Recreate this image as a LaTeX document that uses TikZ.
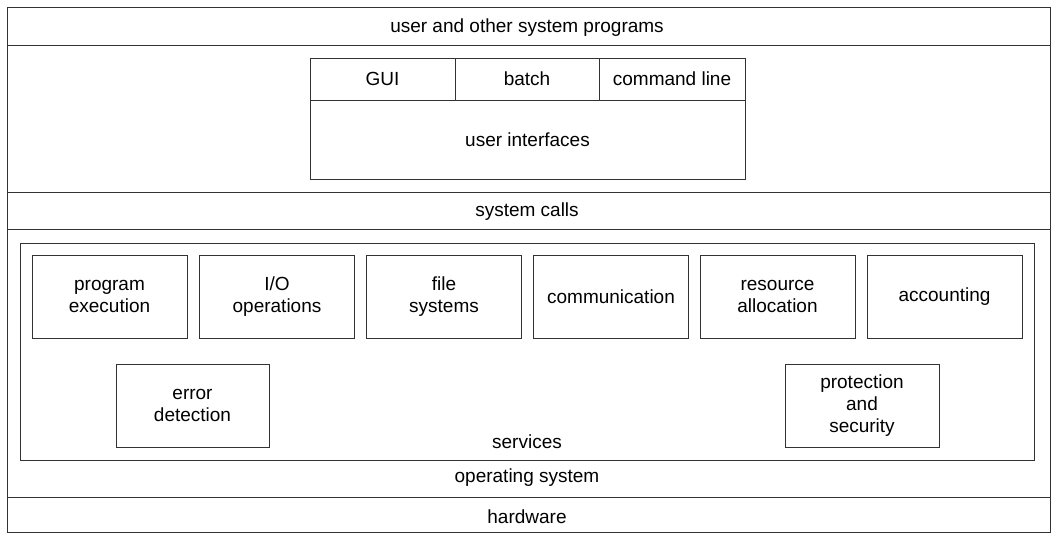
\documentclass[tikz,border=0pt]{standalone}
\usepackage{fontspec}
\setmainfont{Liberation Sans}
\begin{document}
\begin{tikzpicture}[x=1pt,y=-1pt,
  ln/.style={draw=black!80,line width=0.8pt},
  box/.style={ln,rectangle,inner sep=0pt,align=center,font=\fontsize{19}{22}\selectfont},
  lbl/.style={inner sep=0pt,font=\fontsize{19}{22}\selectfont}]
\useasboundingbox (0,0) rectangle (1057,544);
% layers
\node[box,minimum width=1043,minimum height=38] (top) at (528.5,26) {};
\node[lbl] (toplbl) at (527,28) {user and other system programs};
\node[box,minimum width=1043,minimum height=147] (uiband) at (528.5,118.5) {};
\node[box,minimum width=1043,minimum height=37] (sc) at (528.5,210.5) {};
\node[lbl] (sclbl) at (527,212) {system calls};
\node[box,minimum width=1043,minimum height=268] (os) at (528.5,363) {};
\node[box,minimum width=1043,minimum height=35] (hw) at (528.5,514.5) {};
\node[lbl] (hwlbl) at (527,517) {hardware};
\node[lbl] (oslbl) at (527,478) {operating system};
% user interfaces
\node[box,minimum width=145,minimum height=42] (gui) at (382.5,79) {GUI};
\node[box,minimum width=144,minimum height=42] (batch) at (527,79) {batch};
\node[box,minimum width=146,minimum height=42] (cmd) at (672,79) {command line};
\node[box,minimum width=435,minimum height=79] (ui) at (527.5,139.5) {user interfaces};
% services
\node[box,minimum width=1014,minimum height=217] (serv) at (527,351.5) {};
\node[lbl] (servlbl) at (527,442) {services};
\node[box,minimum width=155,minimum height=83] (pe) at (109.5,296.5) {program\\execution};
\node[box,minimum width=155,minimum height=83] (io) at (277,296.5) {I/O\\operations};
\node[box,minimum width=155,minimum height=83] (fs) at (444,296.5) {file\\systems};
\node[box,minimum width=155,minimum height=83] (com) at (611,296.5) {communication};
\node[box,minimum width=155,minimum height=83] (ra) at (777.5,296.5) {resource\\allocation};
\node[box,minimum width=155,minimum height=83] (acc) at (944.5,296.5) {accounting};
\node[box,minimum width=153,minimum height=83] (ed) at (192.5,405.5) {error\\detection};
\node[box,minimum width=154,minimum height=83] (ps) at (862,405.5) {protection\\and\\security};
\end{tikzpicture}
\end{document}
